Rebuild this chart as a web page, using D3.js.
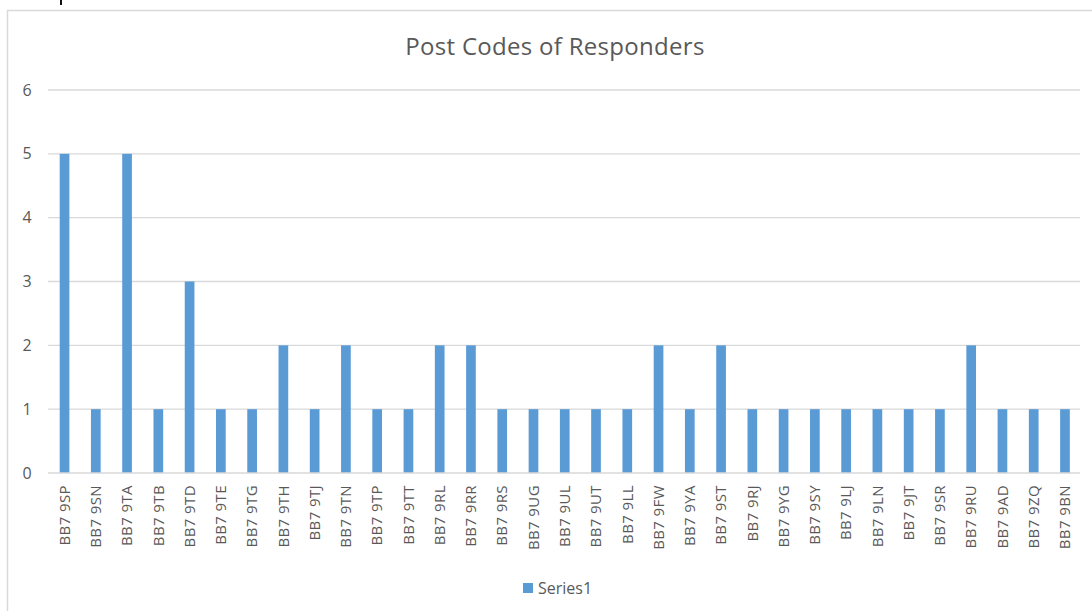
<!DOCTYPE html>
<html><head><meta charset="utf-8">
<script src="https://cdn.jsdelivr.net/npm/d3@7"></script>
<style>body{margin:0;background:#fff}svg{display:block}</style>
</head><body>
<script>
const categories = ["BB7 9SP","BB7 9SN","BB7 9TA","BB7 9TB","BB7 9TD","BB7 9TE","BB7 9TG","BB7 9TH","BB7 9TJ","BB7 9TN","BB7 9TP","BB7 9TT","BB7 9RL","BB7 9RR","BB7 9RS","BB7 9UG","BB7 9UL","BB7 9UT","BB7 9LL","BB7 9FW","BB7 9YA","BB7 9ST","BB7 9RJ","BB7 9YG","BB7 9SY","BB7 9LJ","BB7 9LN","BB7 9JT","BB7 9SR","BB7 9RU","BB7 9AD","BB7 9ZQ","BB7 9BN"];
const series1 = [5,1,5,1,3,1,1,2,1,2,1,1,2,2,1,1,1,1,1,2,1,2,1,1,1,1,1,1,1,2,1,1,1];
const yTicks = [0,1,2,3,4,5,6];
const title = "Post Codes of Responders";
const seriesName = "Series1";

const W = 1092, H = 611;
const font = "'Open Sans', 'Liberation Sans', sans-serif";
const svg = d3.select("body").append("svg").attr("width", W).attr("height", H);

// chart area border
svg.append("rect").attr("x", 7.5).attr("y", 10.5).attr("width", W + 10).attr("height", H + 10)
  .attr("fill", "#fff").attr("stroke", "#d9d9d9").attr("stroke-width", 1.5);
// small dark mark at top
svg.append("line").attr("x1", 61).attr("x2", 61).attr("y1", 0).attr("y2", 5)
  .attr("stroke", "#111").attr("stroke-width", 2);

const x = d3.scaleBand().domain(categories).range([48.9, 1080.6]).paddingInner(0.69).paddingOuter(0.345);
const y = d3.scaleLinear().domain([0, 6]).range([473, 90]);

// gridlines
svg.append("g").selectAll("line").data(yTicks.filter(d => d > 0)).join("line")
  .attr("x1", 48).attr("x2", 1080)
  .attr("y1", d => y(d)).attr("y2", d => y(d))
  .attr("stroke", "#d9d9d9").attr("stroke-width", 1.3);

// y axis labels
const yAxis = d3.axisLeft(y).tickValues(yTicks).tickFormat(d3.format("d")).tickSize(0).tickPadding(0);
const ya = svg.append("g").attr("transform", "translate(33,0)").call(yAxis);
ya.select(".domain").remove();
ya.selectAll("text").attr("font-family", font).attr("font-size", 16).attr("fill", "#595959")
  .attr("text-anchor", "middle").attr("dx", -6);

// bars
svg.append("g").selectAll("rect").data(categories).join("rect")
  .attr("x", d => x(d)).attr("width", x.bandwidth())
  .attr("y", (d, i) => y(series1[i])).attr("height", (d, i) => y(0) - y(series1[i]))
  .attr("fill", "#5b9bd5");

// baseline
svg.append("line").attr("x1", 48).attr("x2", 1080).attr("y1", y(0)).attr("y2", y(0))
  .attr("stroke", "#d9d9d9").attr("stroke-width", 1.3);

// x axis labels
const xAxis = d3.axisBottom(x).tickSize(0).tickPadding(0);
const xa = svg.append("g").attr("transform", `translate(0,${y(0)})`).call(xAxis);
xa.select(".domain").remove();
xa.selectAll("text").attr("font-family", font).attr("font-size", 15).attr("fill", "#595959")
  .attr("letter-spacing", 0.4)
  .attr("transform", "rotate(-90)").attr("text-anchor", "end")
  .attr("x", -12).attr("y", 0).attr("dy", "0.35em");

// title
svg.append("text").attr("x", 555).attr("y", 55).attr("text-anchor", "middle")
  .attr("font-family", font).attr("font-size", 24).attr("letter-spacing", 0.3).attr("fill", "#595959").text(title);

// legend
svg.append("rect").attr("x", 523).attr("y", 583).attr("width", 10).attr("height", 10).attr("fill", "#5b9bd5");
svg.append("text").attr("x", 538).attr("y", 588).attr("dy", "0.35em")
  .attr("font-family", font).attr("font-size", 16).attr("fill", "#595959").text(seriesName);
</script>
</body></html>
